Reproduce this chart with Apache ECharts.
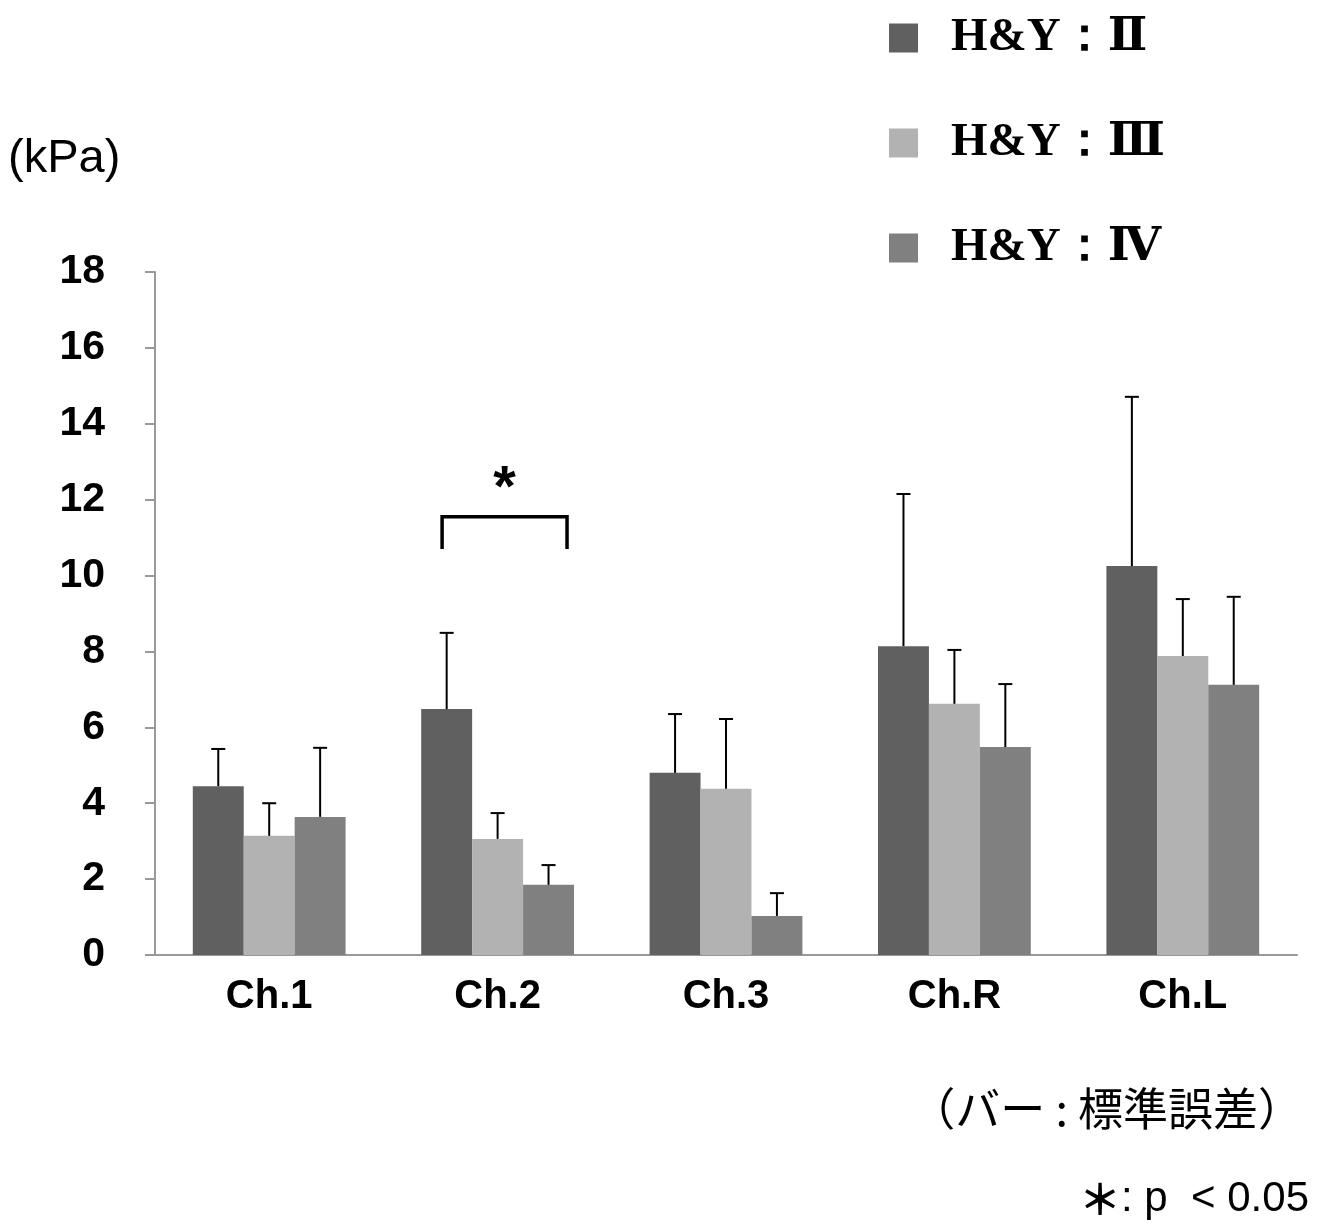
<!DOCTYPE html>
<html>
<head>
<meta charset="UTF-8">
<title></title>
<script src="https://cdn.jsdelivr.net/npm/echarts@6/dist/echarts.min.js"></script>
<style>
  html, body { margin: 0; padding: 0; background: #fff; }
  #chart { width: 1325px; height: 1228px; }
</style>
</head>
<body>
<div id="chart"></div>
<script type="text/javascript">
// data
var categories = ['Ch.1', 'Ch.2', 'Ch.3', 'Ch.R', 'Ch.L'];
var seriesNames = ['H&Y：Ⅱ', 'H&Y：Ⅲ', 'H&Y：Ⅳ'];
var stage2 = [4.45, 6.48, 4.80, 8.14, 10.25];
var stage3 = [3.14, 3.06, 4.38, 6.62, 7.88];
var stage4 = [3.64, 1.85, 1.03, 5.48, 7.12];
// upper end of the standard error bar
var stage2Err = [5.43, 8.49, 6.35, 12.15, 14.71];
var stage3Err = [4.00, 3.74, 6.22, 8.04, 9.38];
var stage4Err = [5.46, 2.37, 1.63, 7.14, 9.44];
var yTicks = [0, 2, 4, 6, 8, 10, 12, 14, 16, 18];

var colors = ['#606060', '#b2b2b2', '#808080'];
var barFrac = 0.223; // bar width as part of the category band

var chart = echarts.init(document.getElementById('chart'));

function errorSeries(idx, vals, errs) {
  var data = categories.map(function (c, i) { return [i, vals[i], errs[i]]; });
  return {
    type: 'custom',
    silent: true,
    z: 5,
    data: data,
    renderItem: function (params, api) {
      var band = api.size([1, 0])[0];
      var off = (idx - 1) * band * barFrac;
      var p0 = api.coord([api.value(0), api.value(1)]);
      var p1 = api.coord([api.value(0), api.value(2)]);
      var x = p0[0] + off;
      var cap = 7;
      return {
        type: 'group',
        children: [
          { type: 'line', shape: { x1: x, y1: p0[1], x2: x, y2: p1[1] },
            style: { stroke: '#000', lineWidth: 2 } },
          { type: 'line', shape: { x1: x - cap, y1: p1[1], x2: x + cap, y2: p1[1] },
            style: { stroke: '#000', lineWidth: 2 } }
        ]
      };
    }
  };
}

var barSeries = [stage2, stage3, stage4].map(function (vals, i) {
  return {
    name: seriesNames[i],
    type: 'bar',
    data: vals,
    barWidth: (barFrac * 100) + '%',
    barGap: '0%',
    itemStyle: { color: colors[i] },
    animation: false
  };
});

var option = {
  animation: false,
  color: colors,
  legend: {
    orient: 'vertical',
    left: 884,
    top: 9,
    itemWidth: 29,
    itemHeight: 29,
    itemGap: 57,
    icon: 'rect',
    data: seriesNames,
    textStyle: {
      fontFamily: 'Liberation Serif, DejaVu Serif, serif',
      fontWeight: 'bold',
      fontSize: 47,
      lineHeight: 48,
      color: '#000',
      padding: [0, 0, 0, 28]
    }
  },
  grid: { left: 155, right: 28, top: 272, bottom: 273 },
  xAxis: {
    type: 'category',
    data: categories,
    axisLine: { lineStyle: { color: '#999', width: 2 } },
    axisTick: { length: 10, lineStyle: { color: '#999', width: 2 } },
    axisLabel: {
      margin: 22,
      fontFamily: 'Liberation Sans, Arial, sans-serif',
      fontWeight: 'bold',
      fontSize: 40,
      color: '#000'
    }
  },
  yAxis: {
    type: 'value',
    min: yTicks[0],
    max: yTicks[yTicks.length - 1],
    interval: 2,
    splitLine: { show: false },
    axisLine: { show: true, lineStyle: { color: '#999', width: 2 } },
    axisTick: { show: true, length: 10, lineStyle: { color: '#999', width: 2 } },
    axisLabel: {
      margin: 50,
      fontFamily: 'Liberation Sans, Arial, sans-serif',
      fontWeight: 'bold',
      fontSize: 41,
      color: '#000'
    }
  },
  series: barSeries.concat([
    errorSeries(0, stage2, stage2Err),
    errorSeries(1, stage3, stage3Err),
    errorSeries(2, stage4, stage4Err)
  ]),
  graphic: [
    { type: 'text', left: 8, top: 136,
      style: { text: '(kPa)', font: '47px Liberation Sans, Arial, sans-serif', fill: '#000' } },
    { type: 'text', right: 22, top: 1086,
      style: { text: '（バー : 標準誤差）', font: '45px "Noto Sans CJK JP", sans-serif', fill: '#000' } },
    { type: 'text', right: 16, top: 1178,
      style: {
        text: '{s|＊}: p  < 0.05',
        font: '42px Liberation Sans, Arial, sans-serif',
        fill: '#000',
        rich: {
          s: { fontFamily: '"Noto Sans CJK JP", sans-serif', fontWeight: 'bold', fontSize: 42 }
        }
      } }
  ]
};
chart.setOption(option);

// significance bracket between H&Y II and H&Y IV on Ch.2
var c2 = categories.indexOf('Ch.2');
var pTop = chart.convertToPixel({ gridIndex: 0 }, [c2, 11.55]);
var pLeg = chart.convertToPixel({ gridIndex: 0 }, [c2, 10.7]);
var band = chart.convertToPixel({ gridIndex: 0 }, [1, 0])[0] - chart.convertToPixel({ gridIndex: 0 }, [0, 0])[0];
var xl = pTop[0] - band * 0.243;
var xr = pTop[0] + band * 0.304;
chart.setOption({
  graphic: option.graphic.concat([
    { type: 'polyline', shape: { points: [[xl, pLeg[1]], [xl, pTop[1]], [xr, pTop[1]], [xr, pLeg[1]]] },
      style: { stroke: '#000', lineWidth: 3.5, fill: null } },
    { type: 'text', x: (xl + xr) / 2, y: pTop[1] - 56,
      style: { text: '*', font: 'bold 58px Liberation Sans, Arial, sans-serif', fill: '#000', align: 'center' } }
  ])
});
</script>
</body>
</html>
